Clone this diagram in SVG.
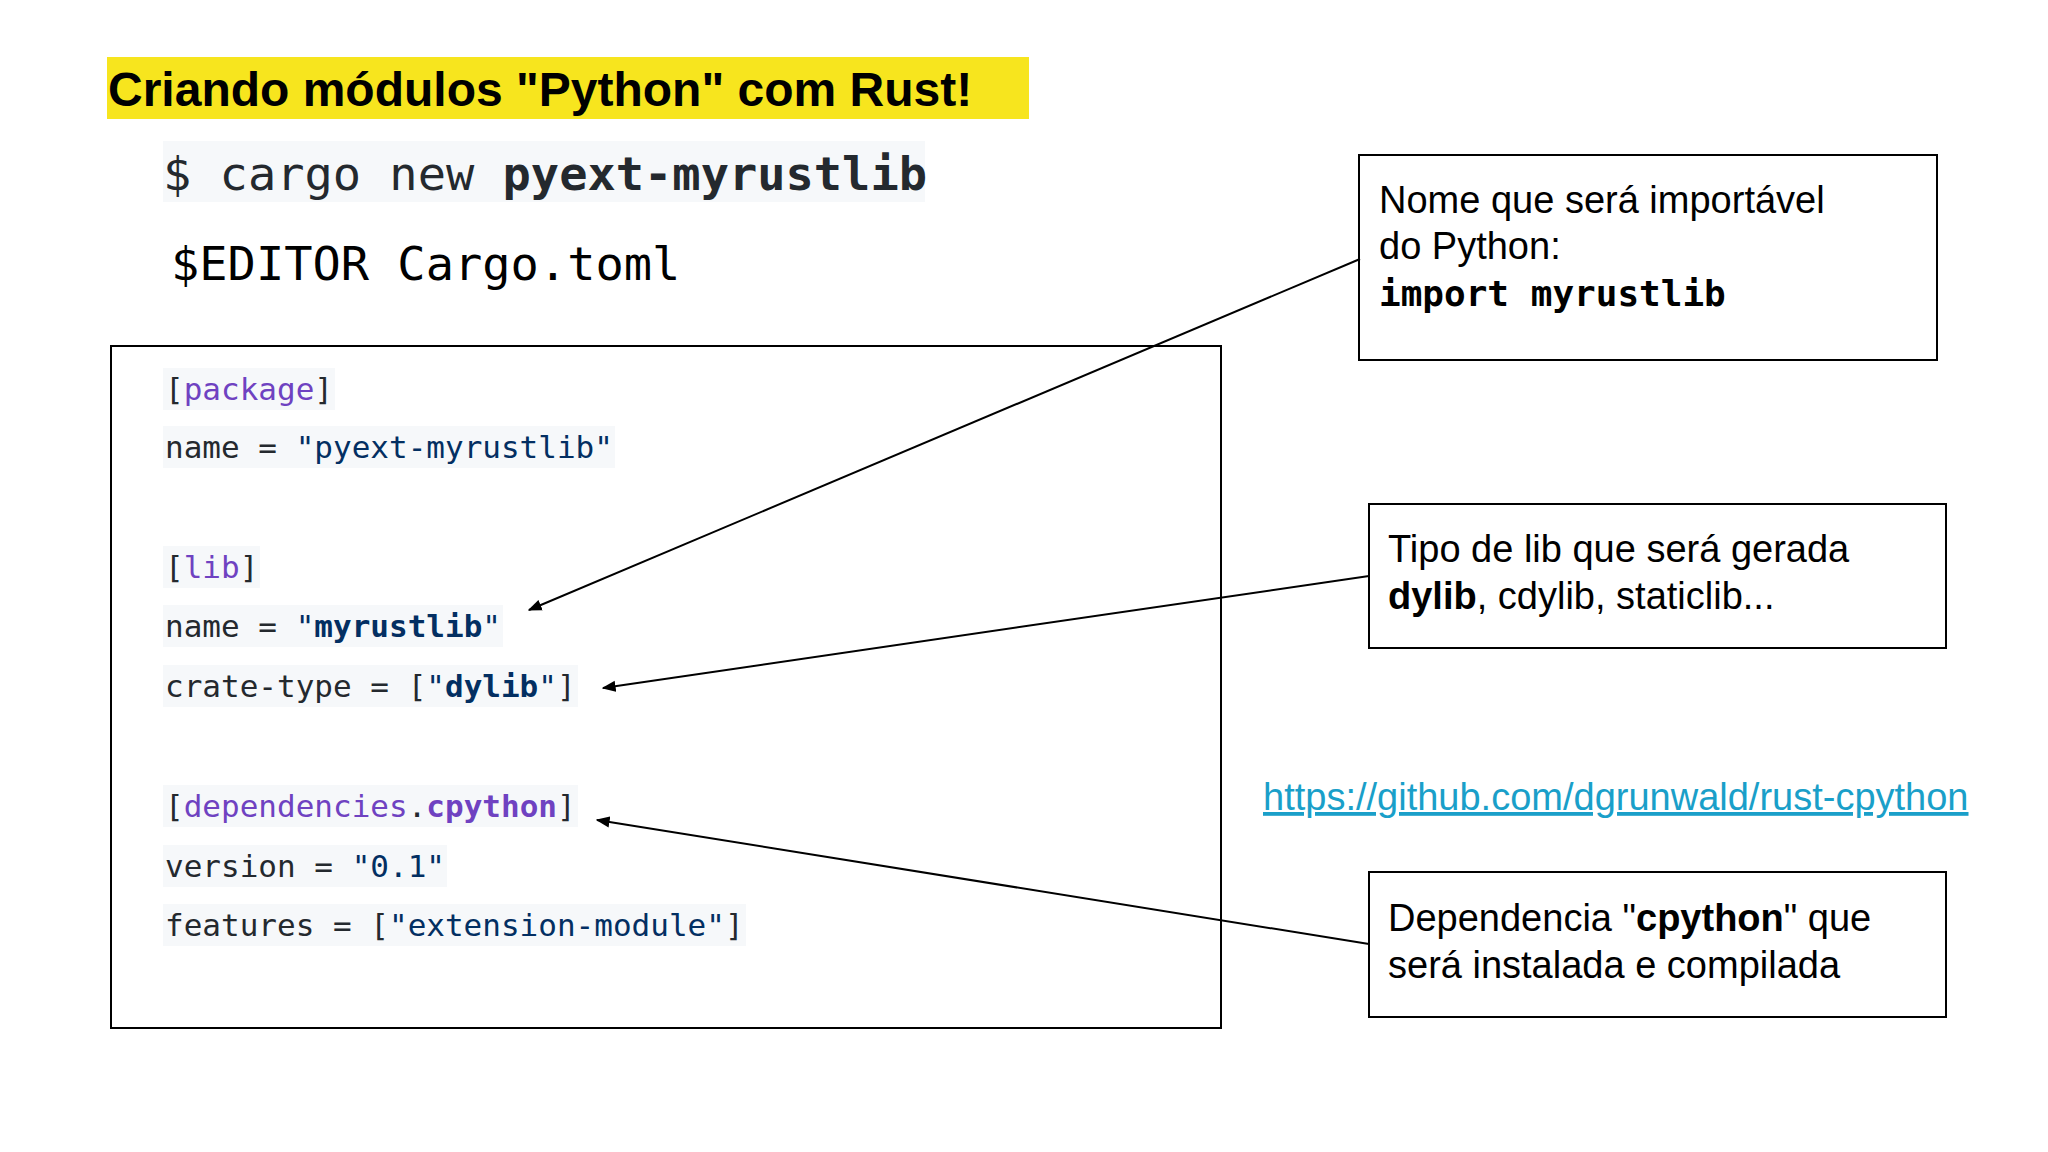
<svg xmlns="http://www.w3.org/2000/svg" width="2048" height="1152" viewBox="0 0 2048 1152">
<style>
.sans{font-family:"Liberation Sans",Arial,sans-serif;fill:#000}
.mono{font-family:"DejaVu Sans Mono",monospace}
.code{font-family:"DejaVu Sans Mono",monospace;font-size:31px;fill:#24292e}
.kw{fill:#6f42c1}
.str{fill:#032f62}
.b{font-weight:bold}
.bg{fill:#f6f8fa}
.box{fill:#fff;stroke:#000;stroke-width:2}
.conn{stroke:#000;stroke-width:2;fill:none;marker-end:url(#ah)}
</style>
<defs>
<marker id="ah" viewBox="0 0 10 10" refX="9" refY="5" markerWidth="7" markerHeight="7" orient="auto"><path d="M0,1 L10,5 L0,9 z" fill="#000"/></marker>
</defs>
<rect width="2048" height="1152" fill="#fff"/>
<g id="title">
<rect x="107" y="57" width="922" height="62" fill="#f7e51e"/>
<text x="108" y="106" class="sans b" font-size="48">Criando módulos "Python" com Rust!</text>
</g>
<g id="cmd1">
<rect x="163" y="141" width="762" height="61" fill="#f6f8fa"/>
<text x="163" y="190" class="mono" font-size="47" fill="#24292e">$ cargo new <tspan class="b">pyext-myrustlib</tspan></text>
</g>
<g id="cmd2">
<text x="171" y="280" class="mono" font-size="47" fill="#000">$EDITOR Cargo.toml</text>
</g>
<g id="cargo-toml">
<rect class="box" x="111" y="346" width="1110" height="682"/>
<rect class="bg" x="163" y="368" width="172" height="42"/>
<text x="165" y="400" class="code">[<tspan class="kw">package</tspan>]</text>
<rect class="bg" x="163" y="426" width="452" height="42"/>
<text x="165" y="458" class="code">name = <tspan class="str">"pyext-myrustlib"</tspan></text>
<rect class="bg" x="163" y="546" width="97" height="42"/>
<text x="165" y="578" class="code">[<tspan class="kw">lib</tspan>]</text>
<rect class="bg" x="163" y="605" width="340" height="42"/>
<text x="165" y="637" class="code">name = <tspan class="str">"<tspan class="b">myrustlib</tspan>"</tspan></text>
<rect class="bg" x="163" y="665" width="415" height="42"/>
<text x="165" y="697" class="code">crate-type = [<tspan class="str">"<tspan class="b">dylib</tspan>"</tspan>]</text>
<rect class="bg" x="163" y="785" width="415" height="42"/>
<text x="165" y="817" class="code">[<tspan class="kw">dependencies</tspan>.<tspan class="kw b">cpython</tspan>]</text>
<rect class="bg" x="163" y="845" width="284" height="42"/>
<text x="165" y="877" class="code">version = <tspan class="str">"0.1"</tspan></text>
<rect class="bg" x="163" y="904" width="583" height="42"/>
<text x="165" y="936" class="code">features = [<tspan class="str">"extension-module"</tspan>]</text>
</g>
<g id="note-name">
<rect class="box" x="1359" y="155" width="578" height="205"/>
<text x="1379" y="213" class="sans" font-size="38">Nome que será importável</text>
<text x="1379" y="259" class="sans" font-size="38">do Python:</text>
<text x="1379" y="306" class="mono b" font-size="36" fill="#000">import myrustlib</text>
</g>
<g id="note-type">
<rect class="box" x="1369" y="504" width="577" height="144"/>
<text x="1388" y="562" class="sans" font-size="38">Tipo de lib que será gerada</text>
<text x="1388" y="609" class="sans" font-size="38"><tspan class="b">dylib</tspan>, cdylib, staticlib...</text>
</g>
<g id="note-dep">
<rect class="box" x="1369" y="872" width="577" height="145"/>
<text x="1388" y="931" class="sans" font-size="38">Dependencia "<tspan class="b">cpython</tspan>" que</text>
<text x="1388" y="978" class="sans" font-size="38">será instalada e compilada</text>
</g>
<g id="link">
<text x="1263" y="810" font-family="Liberation Sans,Arial,sans-serif" font-size="38" fill="#1a9fc9" text-decoration="underline">https://github.com/dgrunwald/rust-cpython</text>
</g>
<g id="connectors">
<line class="conn" x1="1360" y1="259" x2="529" y2="610"/>
<line class="conn" x1="1369" y1="576" x2="603" y2="688"/>
<line class="conn" x1="1369" y1="944" x2="597" y2="820"/>
</g>
</svg>
